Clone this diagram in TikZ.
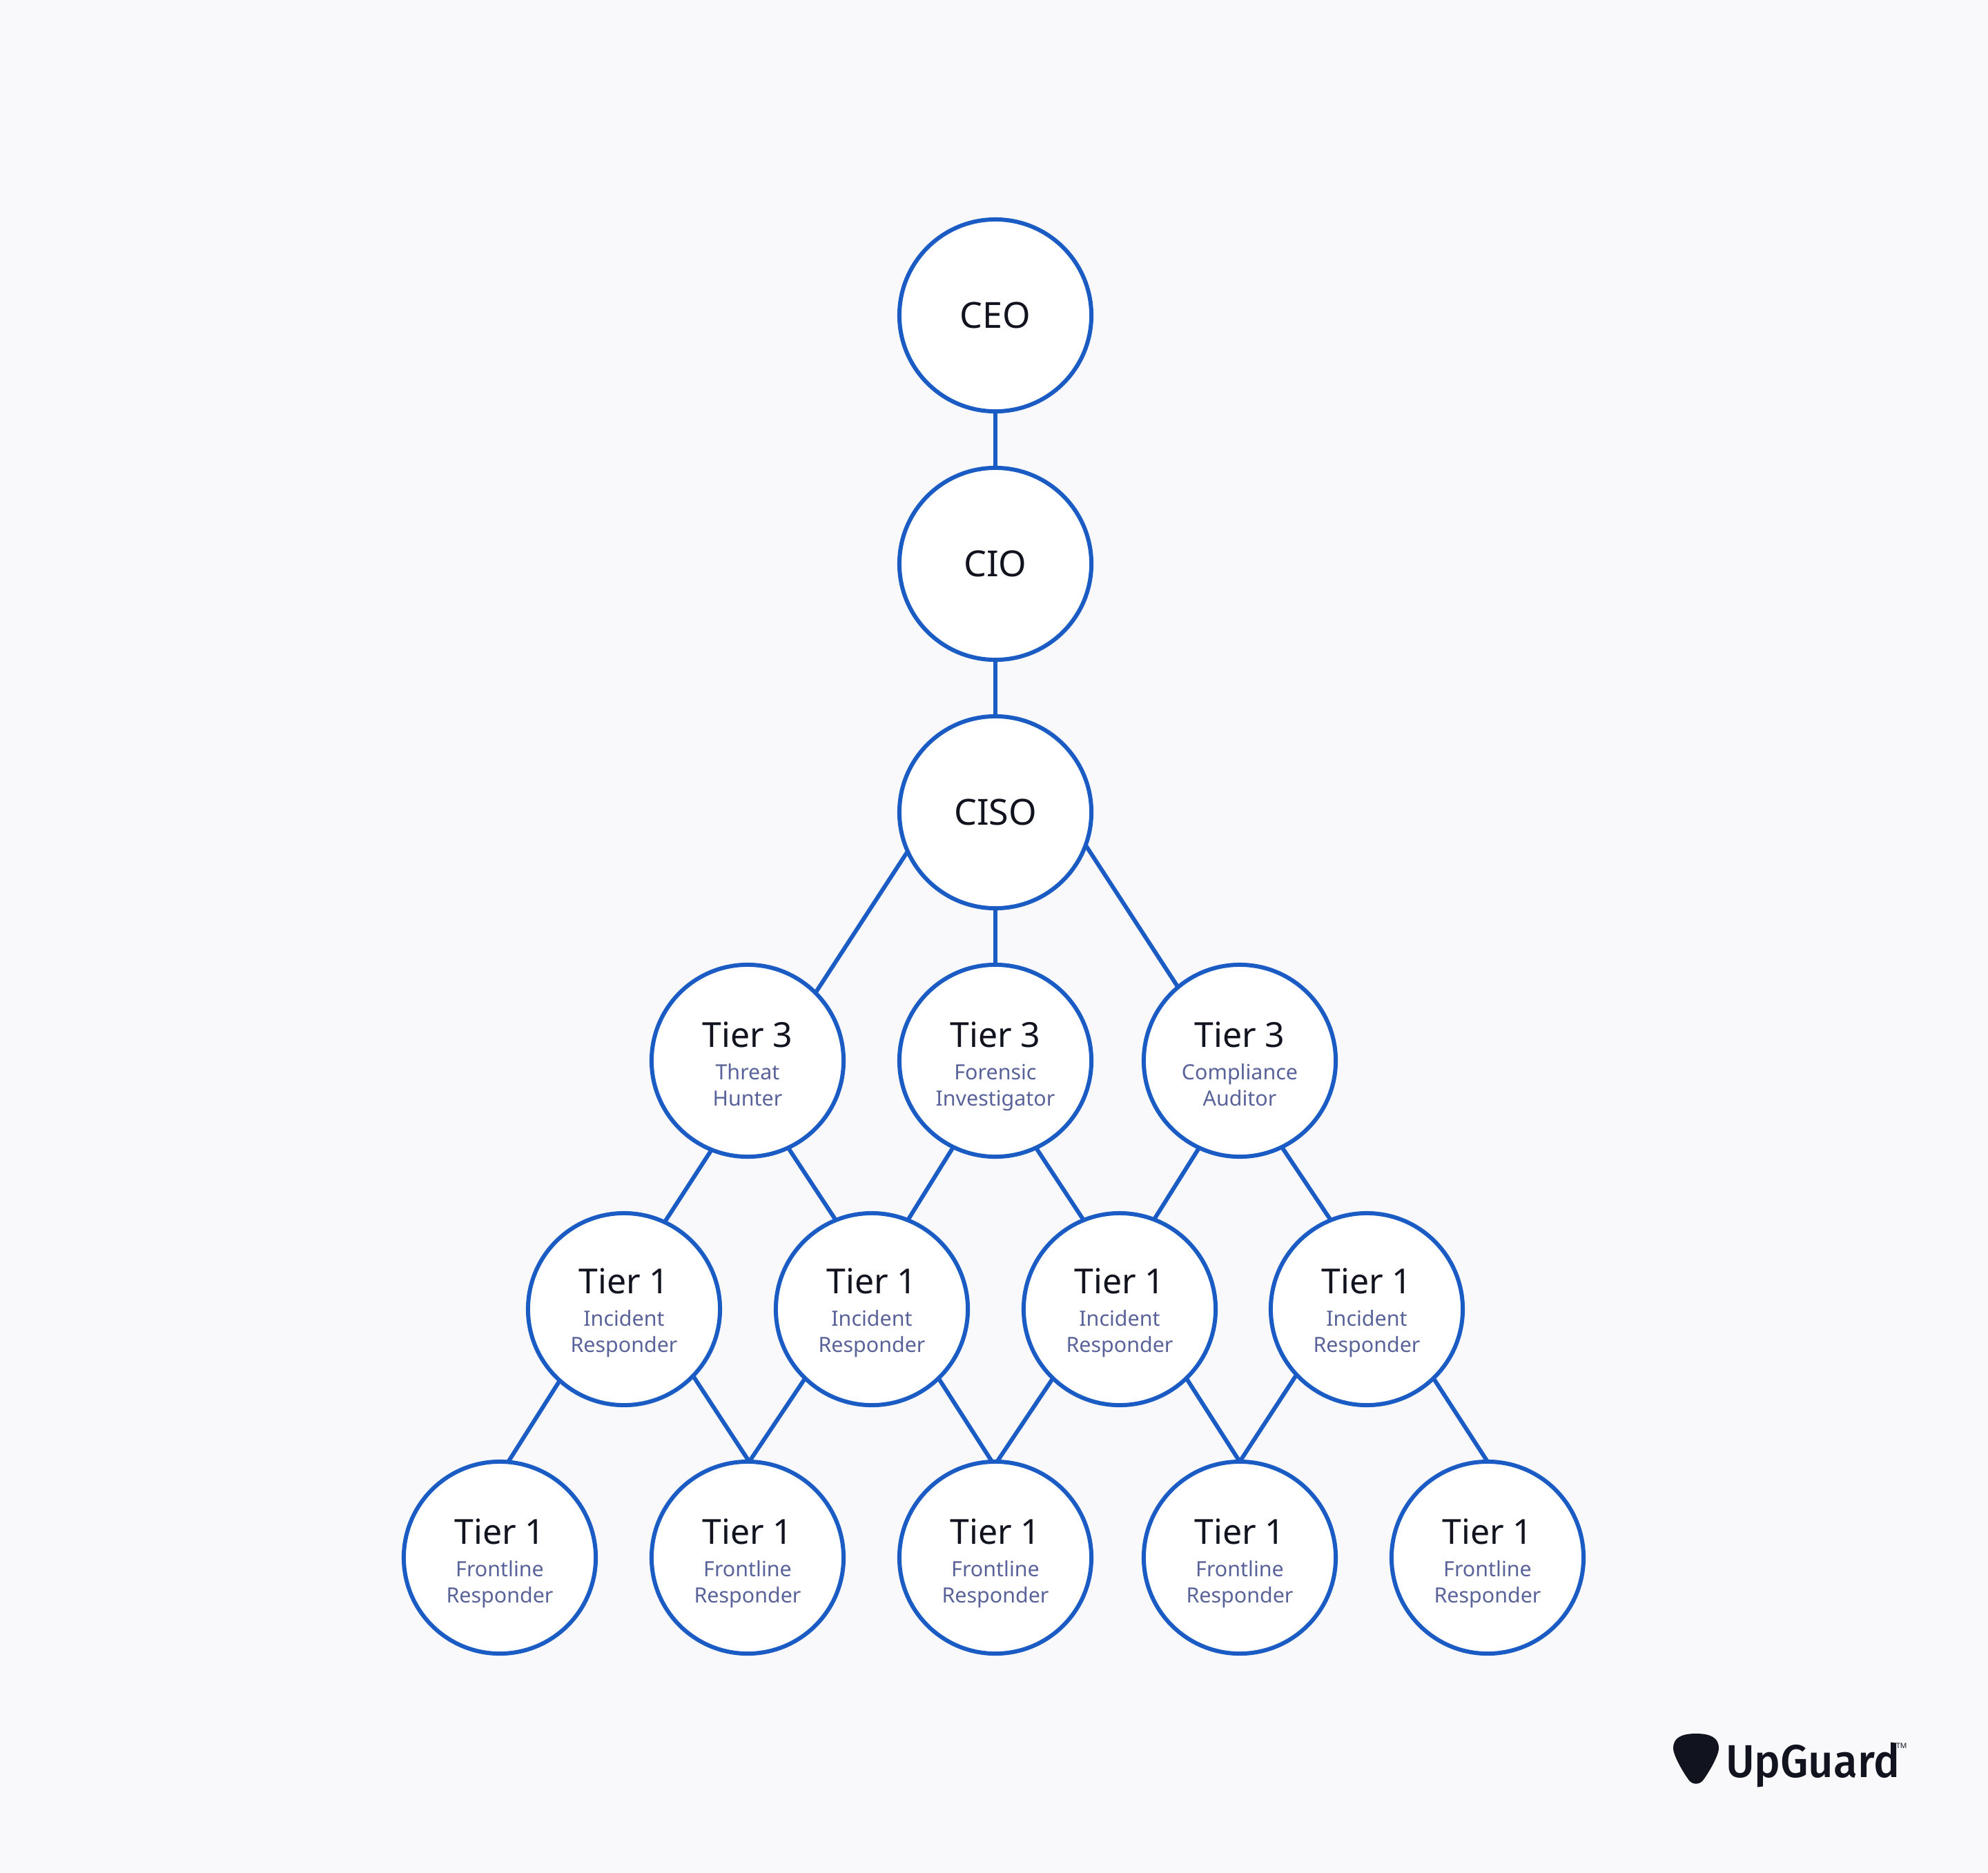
\documentclass[tikz,border=0pt]{standalone}
\usepackage{fontspec}
\setmainfont{Noto Sans}
\newfontfamily\logofont[FakeStretch=0.95]{Fira Sans Medium}
\usetikzlibrary{positioning}
\newcommand*{\xMax}{2880}
\newcommand*{\yMax}{2714}
\definecolor{pageBg}{HTML}{F9F9FC}
\definecolor{ringBlue}{HTML}{1A5CC4}
\definecolor{inkDark}{HTML}{11131F}
\definecolor{roleInk}{HTML}{5A6399}
\newcommand*{\roleFont}{\fontsize{8.65pt}{10.8pt}\selectfont\color{roleInk}}
\newcommand*{\roleText}[2]{\rule{0pt}{15.2pt}\\[2.5pt]\roleFont #1\\\roleFont\vphantom{p}#2}
\tikzset{orgstyle/.style={
    x=0.01cm,
    y=-0.01cm,
    every node/.style={outer sep=0pt},
    rank/.style={% circles of the chart
      circle,
      draw=ringBlue,
      line width=0.06cm,
      fill=white,
      minimum size=2.78cm,
      inner sep=0pt,
      align=center,
      text=inkDark,
      font=\fontsize{14.2pt}{10.8pt}\selectfont
    },
    chief/.style={rank,font=\fontsize{14.8pt}{10.8pt}\selectfont},
    link/.style={draw=ringBlue,line width=0.06cm}
  }
}
\begin{document}
\begin{tikzpicture}[orgstyle]
    \fill [pageBg] (0,0) rectangle (\xMax,\yMax);

    \node [chief] (ceo) at (1442,457) {CEO};
    \node [chief] (cio) at (1442,817) {CIO};
    \node [chief] (ciso) at (1442,1177) {CISO};

    \node [rank] (hunter) at (1083,1537) {Tier 3\roleText{Threat}{Hunter}};
    \node [rank] (forensic) at (1442,1537) {Tier 3\roleText{Forensic}{Investigator}};
    \node [rank] (auditor) at (1796,1537) {Tier 3\roleText{Compliance}{Auditor}};

    \foreach \name/\x in {inca/904,incb/1263,incc/1622,incd/1980} {
        \node [rank] (\name) at (\x,1897) {Tier 1\roleText{Incident}{Responder\rule[-4pt]{0pt}{0pt}}};
    }
    \foreach \name/\x in {fronta/724,frontb/1083,frontc/1442,frontd/1796,fronte/2155} {
        \node [rank] (\name) at (\x,2257) {Tier 1\roleText{Frontline}{Responder}};
    }

    \draw [link] (ceo) -- (cio);
    \draw [link] (cio) -- (ciso);
    \draw [link] (ciso) -- (forensic);
    \draw [link] (ciso.204) -- (hunter.45);
    \draw [link] (ciso.-20) -- (auditor.130);

    \draw [link] (hunter.248) -- (inca.65);
    \draw [link] (hunter.-65) -- (incb.112);
    \draw [link] (forensic.244) -- (incb.68);
    \draw [link] (forensic.-65) -- (incc.112);
    \draw [link] (auditor.245) -- (incc.69);
    \draw [link] (auditor.-64) -- (incd.112);

    \draw [link] (inca.228) -- (fronta.85);
    \draw [link] (inca.-44) -- (frontb.89);
    \draw [link] (incb.226) -- (frontb.89);
    \draw [link] (incb.-46) -- (frontc.92);
    \draw [link] (incc.226) -- (frontc.89);
    \draw [link] (incc.-46) -- (frontd.90);
    \draw [link] (incd.223) -- (frontd.90);
    \draw [link] (incd.-46) -- (fronte.90);

    \fill [inkDark] (2457,2512) .. controls (2478,2512) and (2490,2518) .. (2490,2533)
        .. controls (2490,2545) and (2472,2574) .. (2466,2581)
        .. controls (2461,2586) and (2453,2586) .. (2448,2581)
        .. controls (2442,2574) and (2424,2545) .. (2424,2533)
        .. controls (2424,2518) and (2436,2512) .. (2457,2512) -- cycle;
    \node [anchor=base west,inner sep=0pt,text=inkDark,font=\logofont\fontsize{19pt}{19pt}\selectfont] (brand) at (2500,2575) {UpGuard};
    \node [anchor=base west,inner sep=0pt,text=inkDark,font=\fontsize{3pt}{3pt}\selectfont] (tm) at (2747,2533) {TM};
\end{tikzpicture}
\end{document}
